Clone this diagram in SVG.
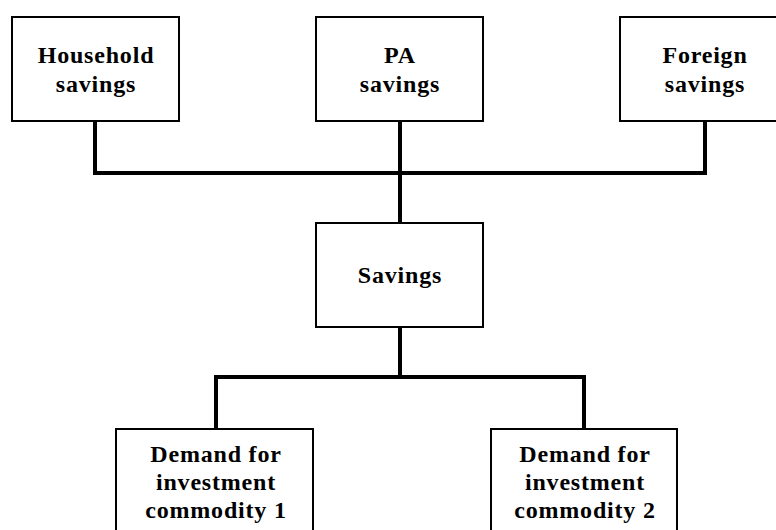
<svg xmlns="http://www.w3.org/2000/svg" width="776" height="530" viewBox="0 0 776 530">
<style>
.box{fill:#fff;stroke:#000;stroke-width:2}
.lbl{font-family:"Liberation Serif","Times New Roman",serif;font-weight:bold;font-size:24px;letter-spacing:0.8px;text-anchor:middle;fill:#000}
.conn{fill:none;stroke:#000;stroke-width:4;stroke-linejoin:miter}
</style>
<rect width="776" height="530" fill="#fff"/>
<g id="connectors">
<path class="conn" d="M95,121 V173 H705 V121"/>
<path class="conn" d="M400,121 V223"/>
<path class="conn" d="M400,327 V377"/>
<path class="conn" d="M216,429 V377 H584 V429"/>
</g>
<g id="household">
<rect class="box" x="12" y="17" width="167" height="104"/>
<text class="lbl" x="96" y="63">Household</text>
<text class="lbl" x="96" y="92">savings</text>
</g>
<g id="pa">
<rect class="box" x="316" y="17" width="167" height="104"/>
<text class="lbl" x="400" y="63">PA</text>
<text class="lbl" x="400" y="92">savings</text>
</g>
<g id="foreign">
<rect class="box" x="620" y="17" width="170" height="104"/>
<text class="lbl" x="705" y="63">Foreign</text>
<text class="lbl" x="705" y="92">savings</text>
</g>
<g id="savings">
<rect class="box" x="316" y="223" width="167" height="104"/>
<text class="lbl" x="400" y="283">Savings</text>
</g>
<g id="demand1">
<rect class="box" x="116" y="429" width="197" height="120"/>
<text class="lbl" x="216" y="462">Demand for</text>
<text class="lbl" x="216" y="490">investment</text>
<text class="lbl" x="216" y="518">commodity 1</text>
</g>
<g id="demand2">
<rect class="box" x="491" y="429" width="186" height="120"/>
<text class="lbl" x="585" y="462">Demand for</text>
<text class="lbl" x="585" y="490">investment</text>
<text class="lbl" x="585" y="518">commodity 2</text>
</g>
</svg>
